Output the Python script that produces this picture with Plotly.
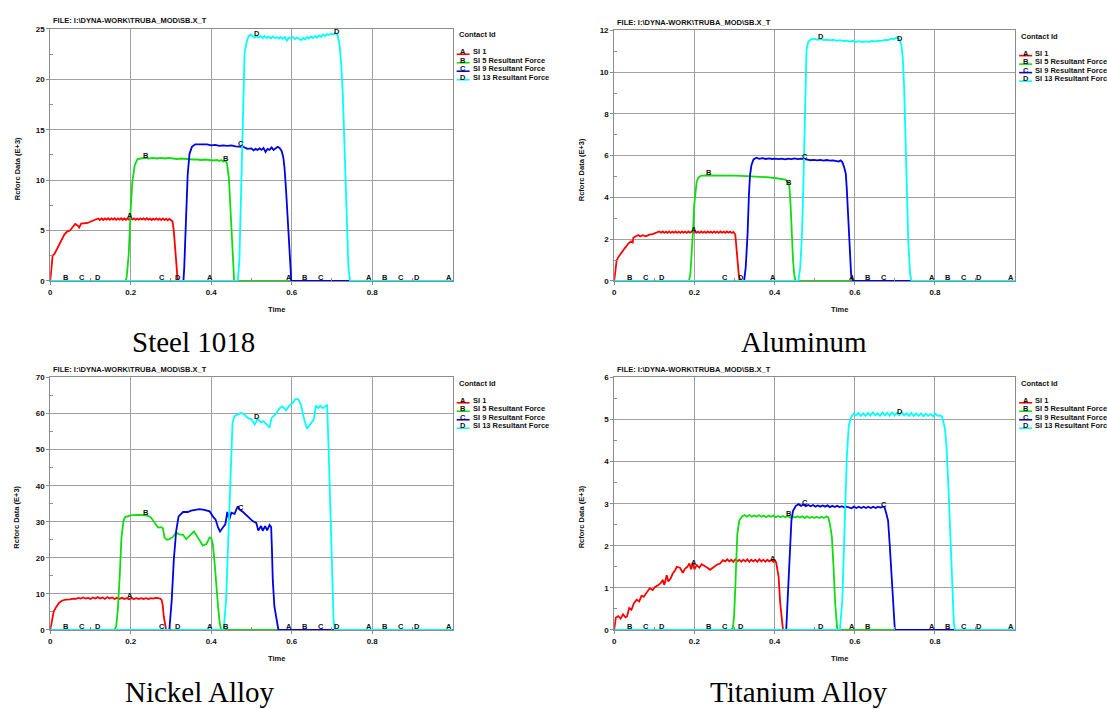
import numpy as np
import plotly.graph_objects as go

W, H = 1107, 709

# ---------------- data (time, force E+3) ----------------
steel_A = [(0,0),(0.0025,1.3),(0.006,2.5),(0.011,2.7),(0.016,3.1),(0.022,3.7),(0.029,4.2),(0.035,4.6),(0.042,4.9),(0.049,5.0),(0.055,5.3),(0.062,5.65),(0.068,5.5),(0.072,5.3),(0.077,5.7),(0.085,5.7),(0.093,5.75),(0.101,5.9),(0.111,6.05),(0.119,6.2),(0.123,6.05),(0.128,6.2),(0.132,6.05),(0.136,6.2),(0.14,6.08),(0.144,6.22),(0.148,6.06),(0.152,6.2),(0.156,6.08),(0.16,6.22),(0.164,6.06),(0.168,6.2),(0.172,6.08),(0.176,6.22),(0.18,6.05),(0.184,6.2),(0.188,6.07),(0.192,6.2),(0.196,6.08),(0.2,6.22),(0.204,6.1),(0.208,6.2),(0.212,6.08),(0.216,6.18),(0.22,6.08),(0.224,6.2),(0.228,6.1),(0.232,6.2),(0.236,6.08),(0.24,6.22),(0.244,6.08),(0.248,6.18),(0.252,6.05),(0.256,6.18),(0.26,6.08),(0.264,6.2),(0.268,6.06),(0.272,6.18),(0.276,6.05),(0.28,6.2),(0.284,6.04),(0.288,6.18),(0.292,6.02),(0.296,6.15),(0.3,6.05),(0.304,5.9),(0.307,5.0),(0.31,3.2),(0.313,1.5),(0.316,0.4),(0.319,0),(1.0,0)]
steel_B = [(0,0),(0.187,0),(0.19,0.4),(0.195,2.6),(0.2,7.2),(0.204,9.8),(0.21,11.5),(0.217,12.1),(0.225,12.15),(0.235,12.2),(0.245,12.15),(0.255,12.2),(0.265,12.15),(0.275,12.2),(0.285,12.15),(0.295,12.2),(0.305,12.15),(0.315,12.1),(0.325,12.15),(0.335,12.1),(0.345,12.1),(0.355,12.05),(0.365,12.05),(0.375,12.0),(0.385,12.05),(0.395,12.0),(0.405,11.95),(0.415,12.0),(0.42,11.9),(0.425,12.0),(0.43,11.85),(0.435,11.9),(0.439,11.7),(0.444,10.2),(0.448,7.2),(0.452,3.6),(0.457,0),(1.0,0)]
steel_C = [(0,0),(0.331,0),(0.333,1.3),(0.337,6.2),(0.3415,10.5),(0.346,12.6),(0.352,13.3),(0.36,13.55),(0.37,13.55),(0.38,13.5),(0.39,13.55),(0.4,13.45),(0.41,13.5),(0.42,13.4),(0.43,13.45),(0.44,13.4),(0.45,13.45),(0.46,13.35),(0.47,13.3),(0.48,13.3),(0.49,13.1),(0.5,13.15),(0.505,12.95),(0.51,13.1),(0.515,13.0),(0.52,13.15),(0.525,13.0),(0.53,13.2),(0.535,12.8),(0.54,13.1),(0.545,13.0),(0.55,13.25),(0.555,13.0),(0.56,13.15),(0.565,13.3),(0.57,13.2),(0.575,12.9),(0.579,12.3),(0.582,11.3),(0.586,9.0),(0.59,6.2),(0.594,2.6),(0.599,0),(1.0,0)]
steel_D = [(0,0),(0.466,0),(0.47,2),(0.4745,9.2),(0.479,17.7),(0.483,22.6),(0.488,23.7),(0.492,24.2),(0.498,24.45),(0.503,24.3),(0.508,24.15),(0.513,24.3),(0.518,24.15),(0.523,24.3),(0.528,24.1),(0.533,24.3),(0.538,24.1),(0.543,24.25),(0.548,24.05),(0.553,24.25),(0.558,24.1),(0.563,24.2),(0.568,24.05),(0.573,24.2),(0.578,24.0),(0.583,24.2),(0.588,23.85),(0.593,24.15),(0.598,24.05),(0.603,24.2),(0.608,24.0),(0.613,24.15),(0.618,24.0),(0.623,23.9),(0.628,24.1),(0.633,23.95),(0.638,24.2),(0.643,24.05),(0.648,24.25),(0.653,24.1),(0.658,24.3),(0.663,24.15),(0.668,24.35),(0.673,24.2),(0.678,24.45),(0.683,24.3),(0.688,24.5),(0.693,24.4),(0.698,24.55),(0.703,24.45),(0.708,24.6),(0.714,24.4),(0.719,23.4),(0.723,21.5),(0.727,18.5),(0.732,12.8),(0.736,6.2),(0.741,1.3),(0.745,0),(1.0,0)]

al_A = [(0,0),(0.0025,0.5),(0.006,0.97),(0.01,1.13),(0.017,1.29),(0.023,1.48),(0.029,1.63),(0.035,1.79),(0.042,1.89),(0.046,1.84),(0.048,2.08),(0.054,2.14),(0.06,2.2),(0.065,2.13),(0.071,2.19),(0.079,2.14),(0.0875,2.22),(0.096,2.24),(0.104,2.3),(0.1125,2.37),(0.117,2.31),(0.121,2.37),(0.125,2.3),(0.129,2.36),(0.133,2.3),(0.137,2.37),(0.141,2.3),(0.145,2.36),(0.149,2.31),(0.153,2.37),(0.157,2.3),(0.161,2.36),(0.165,2.3),(0.169,2.37),(0.173,2.31),(0.177,2.36),(0.181,2.3),(0.185,2.37),(0.189,2.31),(0.193,2.36),(0.197,2.3),(0.201,2.37),(0.205,2.31),(0.209,2.36),(0.213,2.3),(0.217,2.37),(0.221,2.31),(0.225,2.36),(0.229,2.3),(0.233,2.37),(0.237,2.31),(0.241,2.36),(0.245,2.3),(0.249,2.37),(0.253,2.31),(0.257,2.36),(0.261,2.3),(0.265,2.37),(0.269,2.31),(0.273,2.36),(0.277,2.3),(0.281,2.37),(0.285,2.31),(0.289,2.36),(0.293,2.3),(0.297,2.35),(0.302,2.22),(0.3046,1.6),(0.307,0.8),(0.311,0.25),(0.315,0),(1.0,0)]
al_B = [(0,0),(0.1864,0),(0.19,0.33),(0.1934,1.28),(0.197,2.54),(0.1996,3.64),(0.202,4.27),(0.2057,4.75),(0.21,4.95),(0.216,5.03),(0.228,5.06),(0.25,5.06),(0.27,5.05),(0.3,5.04),(0.33,5.02),(0.36,5.0),(0.38,4.97),(0.4,4.93),(0.41,4.9),(0.42,4.88),(0.427,4.85),(0.433,4.75),(0.437,4.5),(0.44,3.6),(0.443,2.2),(0.446,1.0),(0.449,0.3),(0.4525,0),(1.0,0)]
al_C = [(0,0),(0.324,0),(0.328,0.65),(0.3326,2.22),(0.336,4.1),(0.3387,5.06),(0.3422,5.54),(0.3475,5.82),(0.3545,5.9),(0.362,5.85),(0.37,5.88),(0.378,5.84),(0.386,5.87),(0.394,5.84),(0.402,5.86),(0.41,5.83),(0.418,5.86),(0.426,5.82),(0.434,5.86),(0.442,5.83),(0.45,5.87),(0.458,5.83),(0.466,5.86),(0.474,5.82),(0.482,5.81),(0.49,5.78),(0.498,5.8),(0.506,5.77),(0.514,5.8),(0.522,5.76),(0.53,5.79),(0.538,5.76),(0.546,5.77),(0.554,5.74),(0.56,5.72),(0.5646,5.77),(0.569,5.69),(0.5733,5.46),(0.5776,5.14),(0.58,4.43),(0.583,3.17),(0.5864,1.59),(0.5908,0.33),(0.595,0),(1.0,0)]
al_D = [(0,0),(0.4595,0),(0.464,0.65),(0.4683,2.22),(0.4718,4.59),(0.4744,7.27),(0.477,9.8),(0.4796,11.06),(0.484,11.45),(0.49,11.56),(0.499,11.6),(0.507,11.55),(0.515,11.58),(0.523,11.53),(0.531,11.56),(0.539,11.52),(0.547,11.55),(0.555,11.5),(0.563,11.53),(0.571,11.49),(0.579,11.51),(0.587,11.47),(0.595,11.49),(0.603,11.45),(0.611,11.48),(0.619,11.44),(0.627,11.47),(0.635,11.45),(0.643,11.49),(0.651,11.47),(0.659,11.51),(0.667,11.5),(0.675,11.54),(0.683,11.53),(0.691,11.6),(0.698,11.58),(0.705,11.66),(0.7116,11.56),(0.716,11.3),(0.7195,10.74),(0.723,9.32),(0.7265,6.96),(0.73,4.12),(0.7335,1.9),(0.738,0.33),(0.7414,0),(1.0,0)]

ni_A = [(0,0),(0.0044,2.9),(0.0089,5.2),(0.015,6.4),(0.022,7.5),(0.029,8.1),(0.038,8.4),(0.049,8.5),(0.058,8.7),(0.064,8.6),(0.07,8.9),(0.076,8.7),(0.082,9.0),(0.088,8.7),(0.094,8.9),(0.1,8.6),(0.106,9.0),(0.112,8.7),(0.118,9.1),(0.124,8.7),(0.13,9.0),(0.136,8.6),(0.142,9.1),(0.148,8.7),(0.154,9.0),(0.16,8.6),(0.166,8.9),(0.172,8.6),(0.178,8.9),(0.184,8.6),(0.19,8.8),(0.196,8.5),(0.202,8.8),(0.208,8.6),(0.214,8.8),(0.22,8.6),(0.226,8.8),(0.232,8.6),(0.238,8.8),(0.244,8.6),(0.25,8.8),(0.256,8.7),(0.262,8.9),(0.268,8.8),(0.273,8.7),(0.2765,8.4),(0.2794,7.0),(0.282,3.8),(0.2847,1.5),(0.288,0),(1.0,0)]
ni_B = [(0,0),(0.16,0),(0.164,1.1),(0.168,5.6),(0.173,15.6),(0.177,25.6),(0.182,30.2),(0.186,31.3),(0.2,31.8),(0.215,31.9),(0.235,31.8),(0.245,31.6),(0.251,31.1),(0.26,29.7),(0.268,28.4),(0.276,28.5),(0.28,28.2),(0.284,25.6),(0.29,25.0),(0.296,25.2),(0.305,25.8),(0.313,27.0),(0.321,26.5),(0.33,26.4),(0.338,25.2),(0.346,26.1),(0.357,27.3),(0.367,25.6),(0.373,24.3),(0.379,23.4),(0.388,23.8),(0.396,25.6),(0.4,25.5),(0.404,23.8),(0.408,19.3),(0.412,12.9),(0.417,6.5),(0.421,2.0),(0.425,0),(1.0,0)]
ni_C = [(0,0),(0.296,0),(0.302,8.4),(0.307,19.3),(0.313,27.5),(0.319,31.5),(0.33,32.7),(0.342,32.7),(0.35,33.1),(0.359,33.3),(0.371,33.5),(0.383,33.3),(0.396,32.9),(0.404,31.5),(0.411,30.6),(0.417,28.4),(0.422,27.3),(0.429,28.4),(0.435,29.3),(0.44,32.7),(0.445,30.6),(0.45,32.5),(0.458,32.2),(0.466,34.3),(0.47,33.4),(0.479,32.7),(0.491,31.5),(0.503,30.2),(0.512,29.7),(0.517,27.6),(0.524,28.8),(0.528,27.5),(0.534,28.8),(0.539,27.6),(0.545,29.1),(0.549,28.5),(0.551,22),(0.553,13.8),(0.557,6.5),(0.563,2),(0.567,0),(1.0,0)]
ni_D = [(0,0),(0.431,0),(0.437,8.4),(0.443,26.5),(0.448,44.7),(0.453,57.5),(0.458,59.3),(0.468,59.9),(0.475,60.2),(0.483,59.7),(0.491,58.8),(0.5,58.4),(0.508,57.0),(0.515,58.5),(0.524,57.6),(0.53,57.9),(0.537,57.0),(0.545,56.1),(0.55,58.8),(0.559,59.7),(0.57,61.5),(0.577,62.0),(0.586,60.9),(0.594,62.2),(0.602,62.9),(0.609,64.0),(0.616,64.0),(0.623,62.5),(0.631,58.4),(0.638,55.8),(0.646,57.0),(0.655,58.4),(0.66,62.2),(0.666,61.5),(0.671,62.2),(0.677,61.5),(0.683,62.0),(0.688,62.5),(0.692,49.3),(0.696,31.1),(0.7,12.9),(0.704,2.9),(0.707,0),(1.0,0)]

ti_A = [(0,0),(0.002,0.17),(0.004,0.29),(0.01,0.33),(0.016,0.27),(0.022,0.37),(0.028,0.3),(0.032,0.32),(0.0375,0.52),(0.043,0.48),(0.049,0.63),(0.056,0.72),(0.0625,0.68),(0.068,0.81),(0.074,0.79),(0.081,0.89),(0.089,0.99),(0.096,0.95),(0.102,1.02),(0.11,1.07),(0.116,1.11),(0.121,1.19),(0.125,1.07),(0.131,1.3),(0.135,1.15),(0.141,1.23),(0.146,1.34),(0.152,1.42),(0.156,1.5),(0.164,1.48),(0.171,1.36),(0.177,1.46),(0.1825,1.5),(0.1875,1.58),(0.192,1.44),(0.196,1.6),(0.2,1.44),(0.206,1.54),(0.2125,1.48),(0.218,1.56),(0.227,1.52),(0.2325,1.48),(0.239,1.43),(0.2475,1.5),(0.256,1.55),(0.264,1.58),(0.271,1.66),(0.277,1.63),(0.282,1.68),(0.287,1.63),(0.292,1.67),(0.297,1.62),(0.302,1.68),(0.307,1.63),(0.312,1.67),(0.317,1.62),(0.322,1.67),(0.327,1.63),(0.332,1.68),(0.337,1.62),(0.342,1.67),(0.347,1.63),(0.352,1.67),(0.357,1.62),(0.362,1.68),(0.367,1.63),(0.372,1.67),(0.377,1.62),(0.382,1.67),(0.387,1.63),(0.392,1.66),(0.397,1.62),(0.4,1.67),(0.404,1.6),(0.407,1.45),(0.41,1.27),(0.414,0.64),(0.418,0.17),(0.421,0),(1.0,0)]
ti_B = [(0,0),(0.291,0),(0.296,0.05),(0.299,0.33),(0.302,1.0),(0.304,1.58),(0.307,2.28),(0.312,2.6),(0.319,2.7),(0.325,2.73),(0.331,2.69),(0.337,2.73),(0.343,2.69),(0.349,2.72),(0.355,2.69),(0.361,2.73),(0.367,2.69),(0.373,2.72),(0.379,2.68),(0.385,2.72),(0.391,2.69),(0.397,2.72),(0.403,2.68),(0.409,2.71),(0.415,2.68),(0.421,2.71),(0.427,2.68),(0.433,2.71),(0.439,2.67),(0.445,2.7),(0.451,2.67),(0.457,2.7),(0.463,2.67),(0.469,2.7),(0.475,2.66),(0.481,2.7),(0.487,2.66),(0.493,2.69),(0.499,2.66),(0.505,2.69),(0.511,2.66),(0.517,2.69),(0.523,2.66),(0.53,2.7),(0.534,2.67),(0.538,2.52),(0.543,2.2),(0.547,1.5),(0.551,0.64),(0.556,0.05),(0.558,0),(1.0,0)]
ti_C = [(0,0),(0.429,0),(0.433,0.8),(0.438,1.74),(0.442,2.6),(0.446,2.83),(0.453,2.95),(0.46,2.99),(0.466,2.95),(0.472,2.98),(0.478,2.94),(0.484,2.97),(0.49,2.94),(0.496,2.97),(0.502,2.93),(0.508,2.96),(0.514,2.93),(0.52,2.96),(0.526,2.93),(0.532,2.96),(0.538,2.92),(0.544,2.95),(0.55,2.92),(0.556,2.95),(0.562,2.92),(0.568,2.94),(0.574,2.91),(0.58,2.93),(0.586,2.9),(0.592,2.89),(0.598,2.93),(0.604,2.9),(0.61,2.93),(0.616,2.9),(0.622,2.93),(0.628,2.9),(0.634,2.93),(0.64,2.9),(0.646,2.93),(0.652,2.9),(0.658,2.93),(0.664,2.91),(0.67,2.93),(0.674,2.92),(0.678,2.79),(0.683,2.6),(0.687,2.05),(0.691,1.34),(0.696,0.48),(0.7,0),(1.0,0)]
ti_D = [(0,0),(0.563,0),(0.569,0.72),(0.575,2.52),(0.58,4.08),(0.585,4.86),(0.591,5.06),(0.597,5.14),(0.603,5.1),(0.609,5.16),(0.615,5.09),(0.621,5.15),(0.627,5.09),(0.633,5.16),(0.639,5.1),(0.645,5.17),(0.651,5.1),(0.657,5.15),(0.663,5.09),(0.669,5.17),(0.675,5.1),(0.681,5.16),(0.687,5.09),(0.693,5.17),(0.699,5.1),(0.705,5.16),(0.711,5.1),(0.717,5.17),(0.723,5.1),(0.729,5.15),(0.735,5.09),(0.741,5.16),(0.747,5.09),(0.753,5.15),(0.759,5.09),(0.765,5.15),(0.771,5.08),(0.777,5.14),(0.783,5.09),(0.789,5.13),(0.795,5.08),(0.801,5.14),(0.807,5.09),(0.814,5.1),(0.818,5.06),(0.825,4.78),(0.829,4.32),(0.834,3.3),(0.839,2.13),(0.843,0.95),(0.847,0.17),(0.85,0),(1.0,0)]

captions = ["Steel 1018", "Aluminum", "Nickel Alloy", "Titanium Alloy"]
y_max = [25, 12, 70, 6]
y_step = [5, 2, 10, 1]
x_ticks = [0, 0.2, 0.4, 0.6, 0.8]
x_tick_text = ["0", "0.2", "0.4", "0.6", "0.8"]
letters = ["A", "B", "C", "D"]
legend_names = ["SI 1", "SI 5 Resultant Force", "SI 9 Resultant Force", "SI 13 Resultant Force"]
# curve-id letters: every 0.0396 in time, cycling A, B, C, D
label_times = {
    "A": [0.198, 0.396, 0.594, 0.792, 0.99],
    "B": [0.0396, 0.2376, 0.4356, 0.6336, 0.8316],
    "C": [0.0792, 0.2772, 0.4752, 0.6732, 0.8712],
    "D": [0.1188, 0.3168, 0.5148, 0.7128, 0.9108],
}
file_title = "FILE: I:\\DYNA-WORK\\TRUBA_MOD\\SB.X_T"

all_series = [
    [steel_A, steel_B, steel_C, steel_D],
    [al_A, al_B, al_C, al_D],
    [ni_A, ni_B, ni_C, ni_D],
    [ti_A, ti_B, ti_C, ti_D],
]

# ---------------- layout geometry (window pixels) ----------------
boxes = [(48.3, 25.3, 451.5, 280.5), (613.3, 26.7, 1015.0, 280.5),
         (48.3, 378.3, 451.5, 634.0), (613.3, 378.3, 1015.0, 634.0)]
ytitle_x = [15, 580.7, 15, 580.7]
caption_pos = [(192, 342), (803, 342), (198, 697), (798, 697)]
COLORS = ["#ff0000", "#10dd10", "#0000e6", "#00ffff"]
GRID = "#a0a0a0"
AXIS = "#8c8c8c"
SANS = "Liberation Sans, Arial, sans-serif"
SERIF = "Liberation Serif, Times New Roman, serif"


def px(x):
    return x / W


def py(y):
    return 1 - y / H


fig = go.Figure()
annotations = []
shapes = []
layout = {}

for i in range(4):
    n = i + 1
    xa = "x" if n == 1 else f"x{n}"
    ya = "y" if n == 1 else f"y{n}"
    x0, y0, x1, y1 = boxes[i]
    small = dict(family=SANS, size=7.5, color="#111111", weight="bold")

    layout["xaxis" if n == 1 else f"xaxis{n}"] = dict(
        domain=[px(x0), px(x1)], anchor=ya, range=[0, 1],
        tickvals=x_ticks, ticktext=x_tick_text,
        showgrid=True, gridcolor=GRID, gridwidth=1, zeroline=False,
        showline=True, linecolor=AXIS, linewidth=1, mirror=True,
        ticks="outside", ticklen=3, tickcolor=AXIS,
        tickfont=dict(family=SANS, size=8, color="#111111", weight="bold"),
        minor=dict(tickvals=[0.1, 0.3, 0.5, 0.7, 0.9], ticks="inside", ticklen=3,
                   tickcolor=AXIS, showgrid=False),
        fixedrange=True,
    )
    yv = list(np.arange(0, y_max[i] + y_step[i] / 2, y_step[i]))
    yminor = [v + y_step[i] / 2 for v in yv[:-1]]
    layout["yaxis" if n == 1 else f"yaxis{n}"] = dict(
        domain=[py(y1), py(y0)], anchor=xa, range=[0, y_max[i]],
        tickvals=yv, ticktext=[f"{v:g}" for v in yv],
        showgrid=True, gridcolor=GRID, gridwidth=1, zeroline=False,
        showline=True, linecolor=AXIS, linewidth=1, mirror=True,
        ticks="outside", ticklen=3, tickcolor=AXIS,
        tickfont=dict(family=SANS, size=8, color="#111111", weight="bold"),
        minor=dict(tickvals=yminor, ticks="inside", ticklen=3, tickcolor=AXIS, showgrid=False),
        fixedrange=True,
    )

    for k, ser in enumerate(all_series[i]):
        t = [p[0] for p in ser]
        v = [p[1] for p in ser]
        fig.add_trace(go.Scatter(x=t, y=v, mode="lines", xaxis=xa, yaxis=ya,
                                 line=dict(color=COLORS[k], width=1.8),
                                 showlegend=False, hoverinfo="skip"))
    # curve id letters sitting on each curve
    for k, ser in enumerate(all_series[i]):
        t = np.array([p[0] for p in ser])
        v = np.array([p[1] for p in ser])
        lt = label_times[letters[k]]
        lv = np.interp(lt, t, v)
        for tt, vv in zip(lt, lv):
            annotations.append(dict(x=tt, y=float(vv), xref=xa, yref=ya, text=letters[k],
                                    showarrow=False, xanchor="center", yanchor="middle",
                                    yshift=3, font=small))

    # file title
    annotations.append(dict(x=px(x0 + 0.5), y=py(y0 - 8.3), xref="paper", yref="paper",
                            text=file_title, showarrow=False, xanchor="left", yanchor="middle",
                            font=small))
    # y title
    annotations.append(dict(x=px(ytitle_x[i]), y=py(y0 + 141), xref="paper", yref="paper",
                            text="Rcforc Data (E+3)", showarrow=False, textangle=-90,
                            xanchor="center", yanchor="middle", font=small))
    # x title
    annotations.append(dict(x=px(x0 + 0.563 * (x1 - x0)), y=py(y1 + 29), xref="paper", yref="paper",
                            text="Time", showarrow=False, xanchor="center", yanchor="middle",
                            font=small))
    # legend
    lx = x1 + 4
    annotations.append(dict(x=px(lx), y=py(y0 + 6), xref="paper", yref="paper",
                            text="Contact Id", showarrow=False, xanchor="left", yanchor="middle",
                            font=small))
    for k in range(4):
        ey = y0 + 23 + 8.6 * k
        shapes.append(dict(type="line", xref="paper", yref="paper",
                           x0=px(lx), x1=px(lx + 13), y0=py(ey + 2.6), y1=py(ey + 2.6),
                           line=dict(color=COLORS[k], width=1.6)))
        annotations.append(dict(x=px(lx + 6.5), y=py(ey), xref="paper", yref="paper",
                                text=letters[k], showarrow=False, xanchor="center", yanchor="middle",
                                font=small))
        annotations.append(dict(x=px(lx + 14), y=py(ey), xref="paper", yref="paper",
                                text=legend_names[k], showarrow=False, xanchor="left", yanchor="middle",
                                font=small))
    # caption
    cx, cy = caption_pos[i]
    annotations.append(dict(x=px(cx), y=py(cy), xref="paper", yref="paper",
                            text=captions[i], showarrow=False, xanchor="center", yanchor="middle",
                            font=dict(family=SERIF, size=29, color="#000000")))

fig.update_layout(
    width=W, height=H, margin=dict(l=0, r=0, t=0, b=0),
    paper_bgcolor="white", plot_bgcolor="white",
    showlegend=False, annotations=annotations, shapes=shapes,
    **layout,
)

fig.write_html(
    "out.html",
    config={"displayModeBar": False},
    post_script=("document.body.style.margin='0px';"
                 "document.documentElement.style.overflow='hidden';"
                 "document.body.style.overflow='hidden';"),
)
